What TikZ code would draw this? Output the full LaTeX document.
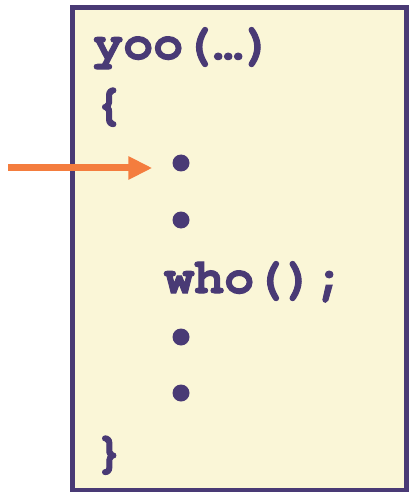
\documentclass[tikz,border=0pt]{standalone}
\usepackage{fontspec}
\newfontfamily\cursorfont{texgyrecursor}[Extension=.otf,UprightFont=*-regular,
  BoldFont=*-bold,BoldFeatures={FakeBold=2}]
\usetikzlibrary{arrows.meta}
\definecolor{codepurple}{RGB}{73,58,117}
\definecolor{framecream}{RGB}{250,246,215}
\definecolor{callorange}{RGB}{244,125,62}
\tikzset{code/.style={anchor=base west,inner sep=0pt,text=codepurple,
  font=\cursorfont\bfseries\fontsize{50}{58}\selectfont},
  codedot/.style={circle,fill=codepurple,inner sep=0pt,minimum size=17pt}}
\begin{document}
\begin{tikzpicture}[x=1pt,y=-1pt]
\useasboundingbox (0,0) rectangle (409,494);
\draw[line width=4.5pt,codepurple,fill=framecream] (72.5,7.5) rectangle (406.5,490);
\node[code] (head) at (93,59) {yoo(…)};
\node[code] (open) at (94,119) {\{};
\node[codedot] (d1) at (181,163) {};
\node[codedot] (d2) at (181,220) {};
\node[code] (call) at (164,293) {who();};
\node[codedot] (d3) at (181,337) {};
\node[codedot] (d4) at (181,393) {};
\node[code] (close) at (94,467) {\}};
% pointer to the current line
\coordinate (tail) at (8,168);
\draw[callorange,line width=7pt,-{Triangle[length=24pt,width=22pt]},shorten >=20pt]
  (tail) -- (d1.west |- tail);
\end{tikzpicture}
\end{document}
